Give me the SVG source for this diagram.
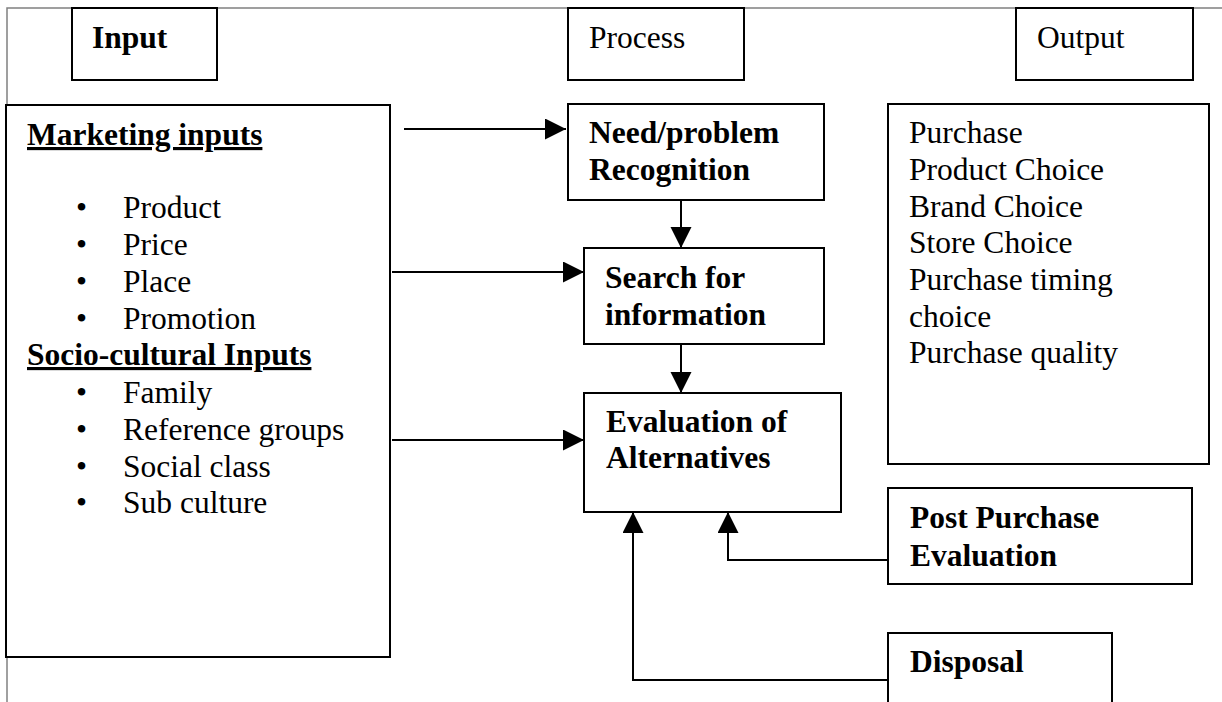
<svg xmlns="http://www.w3.org/2000/svg" width="1222" height="702" viewBox="0 0 1222 702">
<defs>
<style>
.box{fill:#fff;stroke:#000;stroke-width:2}
.t{font-family:"Liberation Serif","Times New Roman",serif;font-size:31.5px;fill:#000}
.b{font-weight:bold}
.u{text-decoration:underline}
.con{fill:none;stroke:#000;stroke-width:2}
.page{fill:none;stroke:#808080;stroke-width:1.5}
</style>
<marker id="ah" markerUnits="userSpaceOnUse" markerWidth="22" markerHeight="22" refX="21" refY="10.5" orient="auto">
<path d="M0,0 L21,10.5 L0,21 z" fill="#000"/>
</marker>
</defs>
<rect width="1222" height="702" fill="#fff"/>
<g id="page">
<path class="page" d="M7,105 V8 H1222"/>
<path class="page" d="M7,657 V702"/>
</g>
<g id="input-header">
<rect class="box" x="72" y="8" width="145" height="72"/>
<text class="t b" x="92" y="48">Input</text>
</g>
<g id="process-header">
<rect class="box" x="568" y="8" width="176" height="72"/>
<text class="t" x="589" y="48">Process</text>
</g>
<g id="output-header">
<rect class="box" x="1016" y="8" width="177" height="72"/>
<text class="t" x="1037" y="48">Output</text>
</g>
<g id="inputs">
<rect class="box" x="6" y="105" width="384" height="552"/>
<text class="t b u" x="27" y="145">Marketing inputs</text>
<text class="t" x="76" y="218">•</text><text class="t" x="123" y="218">Product</text>
<text class="t" x="76" y="255">•</text><text class="t" x="123" y="255">Price</text>
<text class="t" x="76" y="292">•</text><text class="t" x="123" y="292">Place</text>
<text class="t" x="76" y="329">•</text><text class="t" x="123" y="329">Promotion</text>
<text class="t b u" x="27" y="365">Socio-cultural Inputs</text>
<text class="t" x="76" y="403">•</text><text class="t" x="123" y="403">Family</text>
<text class="t" x="76" y="440">•</text><text class="t" x="123" y="440">Reference groups</text>
<text class="t" x="76" y="477">•</text><text class="t" x="123" y="477">Social class</text>
<text class="t" x="76" y="513">•</text><text class="t" x="123" y="513">Sub culture</text>
</g>
<g id="need">
<rect class="box" x="568" y="104" width="256" height="96"/>
<text class="t b" x="589" y="143">Need/problem</text>
<text class="t b" x="589" y="180">Recognition</text>
</g>
<g id="search">
<rect class="box" x="584" y="248" width="240" height="96"/>
<text class="t b" x="605" y="288">Search for</text>
<text class="t b" x="605" y="325">information</text>
</g>
<g id="evaluation">
<rect class="box" x="584" y="393" width="257" height="119"/>
<text class="t b" x="606" y="432">Evaluation of</text>
<text class="t b" x="606" y="468">Alternatives</text>
</g>
<g id="outputs">
<rect class="box" x="888" y="104" width="321" height="360"/>
<text class="t" x="909" y="143">Purchase</text>
<text class="t" x="909" y="180">Product Choice</text>
<text class="t" x="909" y="217">Brand Choice</text>
<text class="t" x="909" y="253">Store Choice</text>
<text class="t" x="909" y="290">Purchase timing</text>
<text class="t" x="909" y="327">choice</text>
<text class="t" x="909" y="363">Purchase quality</text>
</g>
<g id="post-purchase">
<rect class="box" x="888" y="488" width="304" height="96"/>
<text class="t b" x="910" y="528">Post Purchase</text>
<text class="t b" x="910" y="566">Evaluation</text>
</g>
<g id="disposal">
<rect class="box" x="888" y="633" width="224" height="80"/>
<text class="t b" x="910" y="672">Disposal</text>
</g>
<g id="connectors">
<path class="con" d="M404,129 H566" marker-end="url(#ah)"/>
<path class="con" d="M392,272 H584" marker-end="url(#ah)"/>
<path class="con" d="M392,440 H584" marker-end="url(#ah)"/>
<path class="con" d="M681,200 V248" marker-end="url(#ah)"/>
<path class="con" d="M681,344 V393" marker-end="url(#ah)"/>
<path class="con" d="M888,560 H728 V512" marker-end="url(#ah)"/>
<path class="con" d="M888,680 H633 V512" marker-end="url(#ah)"/>
</g>
</svg>
